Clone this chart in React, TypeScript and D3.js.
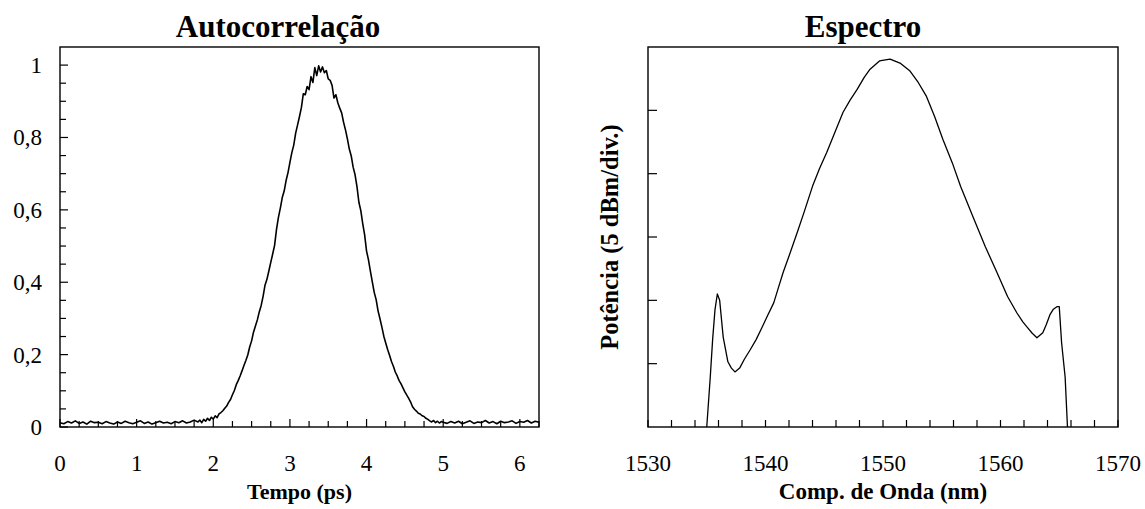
import React from "react";
import * as d3 from "d3";

// ---------- Data ----------
const autoTime = [
  0.0, 0.05, 0.1, 0.15, 0.2, 0.25, 0.3, 0.35, 0.4, 0.45, 0.5, 0.55, 0.6, 0.65, 0.7, 0.75, 0.8, 0.85, 0.9, 0.95,
  1.0, 1.05, 1.1, 1.15, 1.2, 1.25, 1.3, 1.35, 1.4, 1.45, 1.5, 1.55, 1.6, 1.65, 1.7, 1.75,
  1.8, 1.825, 1.85, 1.875, 1.9, 1.925, 1.95, 1.975, 2.0, 2.025, 2.05, 2.075, 2.1, 2.125, 2.15, 2.175,
  2.2, 2.225, 2.25, 2.275, 2.3, 2.325, 2.35, 2.375, 2.4, 2.425, 2.45, 2.475, 2.5, 2.525, 2.55, 2.575,
  2.6, 2.625, 2.65, 2.675, 2.7, 2.725, 2.75, 2.775, 2.8, 2.825, 2.85, 2.875, 2.9, 2.925, 2.95, 2.975,
  3.0, 3.025, 3.05, 3.075, 3.1, 3.125, 3.15, 3.175, 3.2, 3.225, 3.25, 3.275, 3.3, 3.325, 3.35, 3.375,
  3.4, 3.425, 3.45, 3.475, 3.5, 3.525, 3.55, 3.575, 3.6, 3.625, 3.65, 3.675, 3.7, 3.725, 3.75, 3.775,
  3.8, 3.825, 3.85, 3.875, 3.9, 3.925, 3.95, 3.975, 4.0, 4.025, 4.05, 4.075, 4.1, 4.125, 4.15, 4.175,
  4.2, 4.225, 4.25, 4.275, 4.3, 4.325, 4.35, 4.375, 4.4, 4.425, 4.45, 4.475, 4.5, 4.525, 4.55, 4.575,
  4.6, 4.625, 4.65, 4.675, 4.7, 4.725, 4.75, 4.775, 4.8, 4.825, 4.85, 4.875, 4.9, 4.925, 4.95, 4.975,
  5.0, 5.05, 5.1, 5.15, 5.2, 5.25, 5.3, 5.35, 5.4, 5.45, 5.5, 5.55, 5.6, 5.65, 5.7, 5.75, 5.8, 5.85,
  5.9, 5.95, 6.0, 6.05, 6.1, 6.15, 6.2, 6.25,
];
const autoValue = [
  0.012, 0.009, 0.015, 0.011, 0.017, 0.010, 0.014, 0.008, 0.016, 0.012, 0.013, 0.009, 0.015, 0.011, 0.008, 0.014, 0.010, 0.016, 0.012, 0.009,
  0.013, 0.017, 0.010, 0.014, 0.008, 0.012, 0.016, 0.011, 0.013, 0.009, 0.015, 0.012, 0.017, 0.011, 0.014, 0.019,
  0.014, 0.019, 0.012, 0.021, 0.016, 0.024, 0.018, 0.027, 0.022, 0.031, 0.026, 0.036, 0.040, 0.045, 0.052, 0.058,
  0.068, 0.076, 0.089, 0.101, 0.117, 0.128, 0.141, 0.155, 0.170, 0.184, 0.199, 0.221, 0.238, 0.262, 0.279, 0.296,
  0.318, 0.336, 0.361, 0.392, 0.408, 0.431, 0.455, 0.478, 0.502, 0.546, 0.579, 0.605, 0.634, 0.652, 0.681, 0.703,
  0.731, 0.758, 0.779, 0.812, 0.835, 0.858, 0.883, 0.921, 0.918, 0.941, 0.932, 0.968, 0.952, 0.993, 0.971, 0.998,
  0.981, 0.995, 0.979, 0.985, 0.962, 0.958, 0.944, 0.909, 0.918, 0.896, 0.881, 0.868, 0.842, 0.821, 0.796, 0.768,
  0.749, 0.718, 0.697, 0.664, 0.621, 0.598, 0.562, 0.531, 0.486, 0.462, 0.431, 0.401, 0.372, 0.352, 0.321, 0.299,
  0.276, 0.251, 0.232, 0.214, 0.198, 0.181, 0.168, 0.152, 0.141, 0.128, 0.119, 0.108, 0.097, 0.088, 0.079, 0.069,
  0.056, 0.049, 0.044, 0.038, 0.036, 0.031, 0.029, 0.024, 0.021, 0.017, 0.014, 0.018, 0.012, 0.016, 0.011, 0.015,
  0.013, 0.010, 0.015, 0.011, 0.016, 0.009, 0.013, 0.017, 0.010, 0.014, 0.012, 0.018, 0.011, 0.015, 0.009, 0.016, 0.012, 0.014,
  0.017, 0.010, 0.015, 0.013, 0.018, 0.011, 0.016, 0.013,
];

const specWavelength = [
  1535.0, 1535.3, 1535.5, 1535.7, 1535.9, 1536.1, 1536.4, 1536.8, 1537.1, 1537.4, 1537.8, 1538.2, 1538.7,
  1539.2, 1539.7, 1540.2, 1540.7, 1541.1, 1541.5, 1542.1, 1542.7, 1543.3, 1544.0, 1544.6, 1545.2, 1545.9,
  1546.6, 1547.2, 1547.8, 1548.4, 1548.9, 1549.7, 1550.6, 1551.5, 1552.3, 1553.0, 1553.7, 1554.4, 1555.1,
  1555.9, 1556.6, 1557.7, 1558.7, 1559.7, 1560.6, 1561.4, 1561.9, 1562.3, 1562.7, 1563.1, 1563.6, 1563.9,
  1564.2, 1564.5, 1564.8, 1565.0, 1565.2, 1565.5, 1565.7,
];
const specPower = [
  0.0, 0.79, 1.38, 1.85, 2.1, 2.0, 1.42, 1.03, 0.93, 0.87, 0.93, 1.07, 1.22,
  1.38, 1.57, 1.77, 1.96, 2.2, 2.44, 2.75, 3.07, 3.4, 3.8, 4.08, 4.33, 4.65,
  4.97, 5.16, 5.33, 5.52, 5.65, 5.78, 5.81, 5.74, 5.62, 5.44, 5.22, 4.9, 4.54,
  4.17, 3.8, 3.3, 2.85, 2.44, 2.06, 1.8, 1.66, 1.57, 1.48, 1.41, 1.49, 1.62,
  1.77, 1.86, 1.9, 1.9, 1.33, 0.79, 0.0,
];

const autoXTicks = [0, 1, 2, 3, 4, 5, 6];
const autoYTicks = [0, 0.2, 0.4, 0.6, 0.8, 1];
const specXTicks = [1530, 1540, 1550, 1560, 1570];
const specYTicks = [1, 2, 3, 4, 5];

const FONT = "'Liberation Serif', 'Times New Roman', serif";

export default function App() {
  const L = { left: 60, right: 539, top: 47, bottom: 427 };
  const R = { left: 648, right: 1118, top: 47, bottom: 427 };

  const xA = d3.scaleLinear().domain([0, 6.25]).range([L.left, L.right]);
  const yA = d3.scaleLinear().domain([0, 1.05]).range([L.bottom, L.top]);
  const xS = d3.scaleLinear().domain([1530, 1570]).range([R.left, R.right]);
  const yS = d3.scaleLinear().domain([0, 6]).range([R.bottom, R.top]);

  const autoPts: [number, number][] = autoTime.map((t, i) => [t, autoValue[i]]);
  const specPts: [number, number][] = specWavelength.map((w, i) => [w, specPower[i]]);

  const lineA = d3
    .line<[number, number]>()
    .x((d) => xA(d[0]))
    .y((d) => yA(d[1]));
  const lineS = d3
    .line<[number, number]>()
    .x((d) => xS(d[0]))
    .y((d) => yS(d[1]));

  const aMinorX = d3.range(0, 26).map((i) => i * 0.25);
  const aMinorY = d3.range(0, 21).map((i) => i * 0.05);
  const sMinorX = d3.range(0, 21).map((i) => 1530 + i * 2);

  const fmt = (v: number) => (v === 0 || v === 1 ? String(v) : v.toFixed(1).replace(".", ","));

  return (
    <svg
      width={1145}
      height={509}
      style={{ position: "absolute", left: 0, top: 0, background: "#fff" }}
      fontFamily={FONT}
    >
      <rect x={0} y={0} width={1145} height={509} fill="#fff" />

      {/* ---------- Left: Autocorrelação ---------- */}
      <text x={278} y={37} textAnchor="middle" fontSize={31} fontWeight="bold">
        Autocorrelação
      </text>
      <rect
        x={L.left}
        y={L.top}
        width={L.right - L.left}
        height={L.bottom - L.top}
        fill="none"
        stroke="#000"
        strokeWidth={1.4}
      />
      {aMinorY.map((v, i) => {
        const major = Math.abs(v * 5 - Math.round(v * 5)) < 1e-6;
        return (
          <line
            key={"ay" + i}
            x1={L.left}
            x2={L.left + (major ? 8 : 6)}
            y1={yA(v)}
            y2={yA(v)}
            stroke="#000"
            strokeWidth={1.2}
          />
        );
      })}
      {aMinorX.map((v, i) => {
        const major = Math.abs(v - Math.round(v)) < 1e-6;
        return (
          <line
            key={"ax" + i}
            x1={xA(v)}
            x2={xA(v)}
            y1={L.bottom}
            y2={L.bottom - (major ? 8 : 6)}
            stroke="#000"
            strokeWidth={1.2}
          />
        );
      })}
      {autoYTicks.map((v) => (
        <text key={"ayl" + v} x={42} y={yA(v) + 8} textAnchor="end" fontSize={23}>
          {fmt(v)}
        </text>
      ))}
      {autoXTicks.map((v) => (
        <text key={"axl" + v} x={xA(v)} y={471} textAnchor="middle" fontSize={23}>
          {v}
        </text>
      ))}
      <text x={(L.left + L.right) / 2} y={499} textAnchor="middle" fontSize={22} fontWeight="bold">
        Tempo (ps)
      </text>
      <path d={lineA(autoPts) || ""} fill="none" stroke="#000" strokeWidth={1.6} strokeLinejoin="round" />

      {/* ---------- Right: Espectro ---------- */}
      <text x={863} y={37} textAnchor="middle" fontSize={31} fontWeight="bold">
        Espectro
      </text>
      <rect
        x={R.left}
        y={R.top}
        width={R.right - R.left}
        height={R.bottom - R.top}
        fill="none"
        stroke="#000"
        strokeWidth={1.4}
      />
      {specYTicks.map((v) => (
        <line
          key={"sy" + v}
          x1={R.left}
          x2={R.left + 9}
          y1={yS(v)}
          y2={yS(v)}
          stroke="#000"
          strokeWidth={1.2}
        />
      ))}
      {sMinorX.map((v, i) => (
        <line
          key={"sx" + i}
          x1={xS(v)}
          x2={xS(v)}
          y1={R.bottom}
          y2={R.bottom - 7}
          stroke="#000"
          strokeWidth={1.2}
        />
      ))}
      {specXTicks.map((v) => (
        <text key={"sxl" + v} x={xS(v)} y={471} textAnchor="middle" fontSize={23}>
          {v}
        </text>
      ))}
      <text x={(R.left + R.right) / 2} y={499} textAnchor="middle" fontSize={23} fontWeight="bold">
        Comp. de Onda (nm)
      </text>
      <text
        transform={`translate(618, 237) rotate(-90)`}
        textAnchor="middle"
        fontSize={24.5}
        fontWeight="bold"
      >
        Potência (5 dBm/div.)
      </text>
      <path d={lineS(specPts) || ""} fill="none" stroke="#000" strokeWidth={1.3} strokeLinejoin="round" />
    </svg>
  );
}
